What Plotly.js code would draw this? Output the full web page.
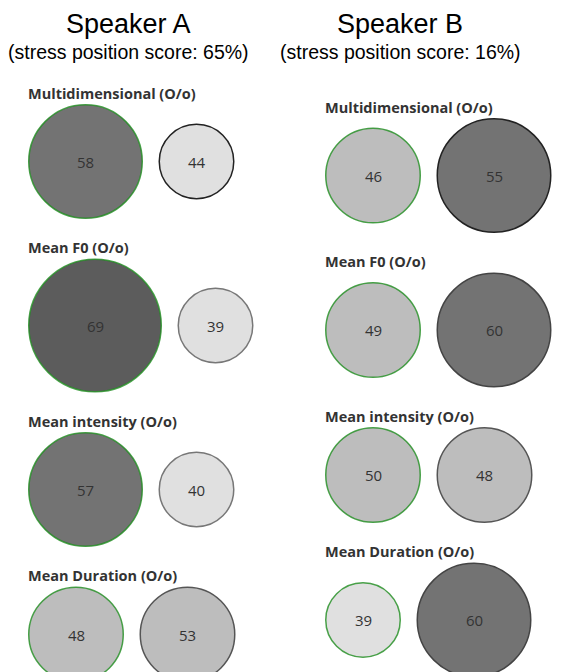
<!DOCTYPE html>
<html>
<head>
<meta charset="utf-8">
<script src="https://cdn.plot.ly/plotly-3.0.1.min.js"></script>
<style>html,body{margin:0;padding:0;background:#fff;}#chart{width:572px;height:672px;}</style>
</head>
<body>
<div id="chart"></div>
<script>
// ---------- data ----------
const metrics = ['Multidimensional (O/o)', 'Mean F0 (O/o)', 'Mean intensity (O/o)', 'Mean Duration (O/o)'];
const speakers = ['Speaker A', 'Speaker B'];
const stressScores = [65, 16];
const speakerAStressed = [58, 69, 57, 48];
const speakerAUnstressed = [44, 39, 40, 53];
const speakerBStressed = [46, 49, 50, 39];
const speakerBUnstressed = [55, 60, 48, 60];

// ---------- styles / layout constants ----------
const classDiameters = [76, 96, 115, 134];
const classFills = ['#e0e0e0', '#bdbdbd', '#737373', '#5c5c5c'];
const stressedStroke = 'rgba(30,140,30,0.8)';
const unstressedStrokeA = ['#222', '#777', '#777', '#555'];
const unstressedStrokeB = ['#222', '#444', '#555', '#444'];
const colLeft = [28, 325];
const colCenter = [128, 400];
const firstTitleY = [93, 107];
const W = 572, H = 672;
const LW = 1.5;

function valueClass(v) { return Math.max(0, Math.min(3, Math.floor((v - 35) / 10))); }

const columns = [
  {stressed: speakerAStressed, unstressed: speakerAUnstressed, ustroke: unstressedStrokeA},
  {stressed: speakerBStressed, unstressed: speakerBUnstressed, ustroke: unstressedStrokeB}
];

const traces = [];
const annotations = [];

columns.forEach((col, c) => {
  const xs = [], ys = [], sizes = [], fills = [], strokes = [], texts = [];
  let ty = firstTitleY[c];
  metrics.forEach((m, i) => {
    annotations.push({
      x: colLeft[c] - 2, y: ty, xref: 'x', yref: 'y', xanchor: 'left', yanchor: 'middle',
      text: '<b>' + m + '</b>', showarrow: false,
      font: {family: 'Open Sans', size: 14.5, color: '#333'}
    });
    const v1 = col.stressed[i], v2 = col.unstressed[i];
    const d1 = classDiameters[valueClass(v1)], d2 = classDiameters[valueClass(v2)];
    const top = ty + 11;
    const rowD = Math.max(d1, d2);
    const cy = top + rowD / 2;
    xs.push(colLeft[c] + d1 / 2, colLeft[c] + d1 + 15.5 + d2 / 2);
    ys.push(cy, cy);
    sizes.push(d1 - LW, d2 - LW);
    fills.push(classFills[valueClass(v1)], classFills[valueClass(v2)]);
    strokes.push(stressedStroke, col.ustroke[i]);
    texts.push(String(v1), String(v2));
    ty = top + rowD + 28.5;
  });
  traces.push({
    type: 'scatter', mode: 'markers', x: xs, y: ys,
    marker: {size: sizes, sizemode: 'diameter', color: fills, opacity: 1,
             line: {color: strokes, width: LW}},
    hoverinfo: 'skip', cliponaxis: true
  });
  xs.forEach((x, k) => {
    annotations.push({
      x: x, y: ys[k], xref: 'x', yref: 'y', xanchor: 'center', yanchor: 'middle',
      yshift: 0, text: texts[k], showarrow: false,
      font: {family: 'Open Sans', size: 15, color: '#333'}
    });
  });
  annotations.push({
    x: colCenter[c], y: 24, xref: 'x', yref: 'y', xanchor: 'center', yanchor: 'middle',
    text: speakers[c], showarrow: false,
    font: {family: 'Liberation Sans, Arial, sans-serif', size: 27, color: '#000'}
  });
  annotations.push({
    x: colCenter[c], y: 52, xref: 'x', yref: 'y', xanchor: 'center', yanchor: 'middle',
    text: '(stress position score: ' + stressScores[c] + '%)', showarrow: false,
    font: {family: 'Liberation Sans, Arial, sans-serif', size: 19.5, color: '#000'}
  });
});

const layout = {
  width: W, height: H,
  margin: {l: 0, r: 0, t: 0, b: 0, pad: 0},
  paper_bgcolor: '#fff', plot_bgcolor: '#fff',
  showlegend: false,
  xaxis: {range: [0, W], visible: false, fixedrange: true},
  yaxis: {range: [H, 0], visible: false, fixedrange: true},
  annotations: annotations
};

Plotly.newPlot('chart', traces, layout, {displayModeBar: false, staticPlot: true});
</script>
</body>
</html>
